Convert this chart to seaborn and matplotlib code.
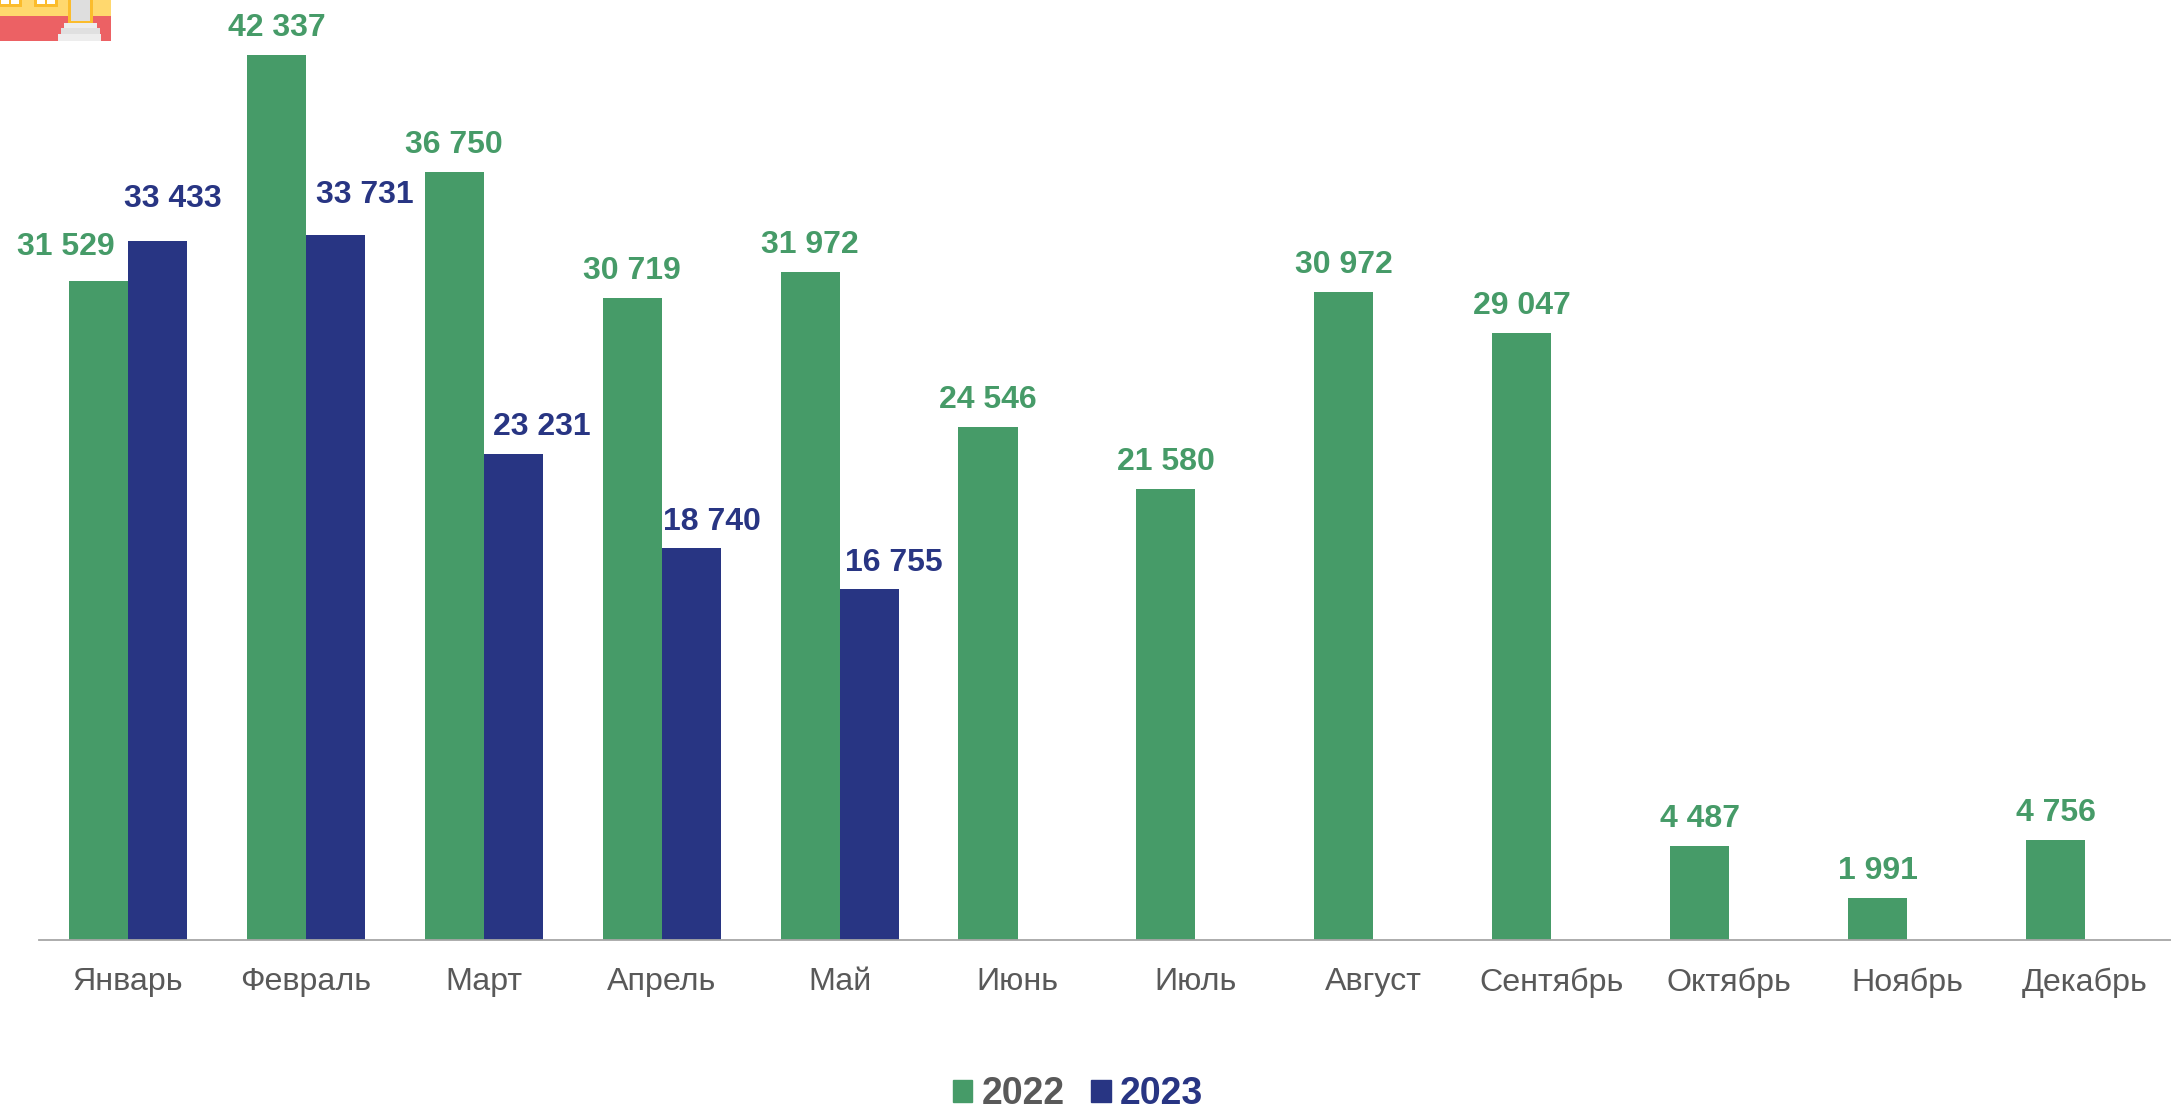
import matplotlib
matplotlib.use("Agg")
import matplotlib.pyplot as plt
from matplotlib.patches import Patch, Rectangle
import seaborn as sns
import pandas as pd
import numpy as np

months = ["Январь", "Февраль", "Март", "Апрель", "Май", "Июнь", "Июль",
          "Август", "Сентябрь", "Октябрь", "Ноябрь", "Декабрь"]
values_2022 = [31529, 42337, 36750, 30719, 31972, 24546, 21580, 30972, 29047, 4487, 1991, 4756]
values_2023 = [33433, 33731, 23231, 18740, 16755]
years = ["2022", "2023"]
GREEN = "#469B68"
BLUE = "#283583"
GREY = "#595959"

sns.set_theme(style="white")
plt.rcParams["font.family"] = ["Liberation Sans", "DejaVu Sans"]

W, H = 2171, 1107
df = pd.DataFrame({
    "month": months * 2,
    "year": ["2022"] * 12 + ["2023"] * 12,
    "value": values_2022 + values_2023 + [np.nan] * (12 - len(values_2023)),
})

fig = plt.figure(figsize=(W / 100, H / 100), dpi=100, facecolor="white")
ax = fig.add_axes([39 / W, (H - 939.5) / H, (W - 39 + 3) / W, 939.5 / H])
sns.barplot(data=df, x="month", y="value", hue="year", order=months, hue_order=years,
            palette=[GREEN, BLUE], saturation=1, width=0.664, gap=0, legend=False,
            linewidth=0, ax=ax)
ax.set_xlim(-0.5, 11.5)
ax.set_ylim(0, 44970)
ax.set_xlabel("")
ax.set_ylabel("")
ax.set_yticks([])
for s in ["top", "left", "right"]:
    ax.spines[s].set_visible(False)
ax.spines["bottom"].set_color("#A6A6A6")
ax.spines["bottom"].set_linewidth(1.3)
ax.tick_params(axis="x", length=0, pad=20, labelsize=23.2, labelcolor=GREY)


def fmt(v):
    return f"{int(v):,}".replace(",", " ")


# label nudges in pixels (dx, dy above bar top), as in the source layout
nudge_2022 = {0: (-33, 34)}
nudge_2023 = {0: (15, 42), 1: (29, 40), 2: (28, 27), 3: (21, 26), 4: (25, 26)}
for cont, col, nudge in [(ax.containers[0], GREEN, nudge_2022), (ax.containers[1], BLUE, nudge_2023)]:
    for i, bar in enumerate(cont):
        h = bar.get_height()
        if np.isnan(h):
            continue
        dx, dy = nudge.get(i, (0, 27))
        ax.annotate(fmt(h), (bar.get_x() + bar.get_width() / 2, h),
                    xytext=(dx * 0.72, dy * 0.72), textcoords="offset points",
                    ha="center", va="center", color=col, fontsize=23,
                    fontweight="bold", annotation_clip=False)

handles = [Patch(color=GREEN, label=years[0]), Patch(color=BLUE, label=years[1])]
leg = ax.legend(handles=handles, loc="center", bbox_to_anchor=(1078 / W, (H - 1094) / H),
                bbox_transform=fig.transFigure, ncol=2, frameon=False,
                prop={"size": 27, "weight": "bold"}, labelcolor=[GREY, BLUE],
                handlelength=0.51, handleheight=0.51, handletextpad=0.25,
                columnspacing=0.72, borderpad=0, borderaxespad=0)

# decorative clipped building icon in the top-left corner (figure pixels)
def px_rect(x, y, w, h, c):
    fig.add_artist(Rectangle((x / W, 1 - (y + h) / H), w / W, h / H, transform=fig.transFigure,
                             facecolor=c, edgecolor="none", zorder=5))

px_rect(0, 0, 111, 16, "#FFD86E")
px_rect(0, 16, 111, 25, "#EC6164")
for x in [-2, 34]:
    px_rect(x, 0, 24, 7, "#FBBC2C")
    px_rect(x + 3, 0, 8, 4, "#FFFFFF")
    px_rect(x + 13, 0, 8, 4, "#FFFFFF")
px_rect(68, 0, 25, 23, "#FBBC2C")
px_rect(71, 0, 19, 21, "#DEDEDE")
px_rect(64, 23, 33, 5, "#EDEDED")
px_rect(61, 28, 39, 6, "#E0E0E0")
px_rect(58, 34, 43, 7, "#EDEDED")

fig.savefig("out.png", dpi=100, facecolor="white")
